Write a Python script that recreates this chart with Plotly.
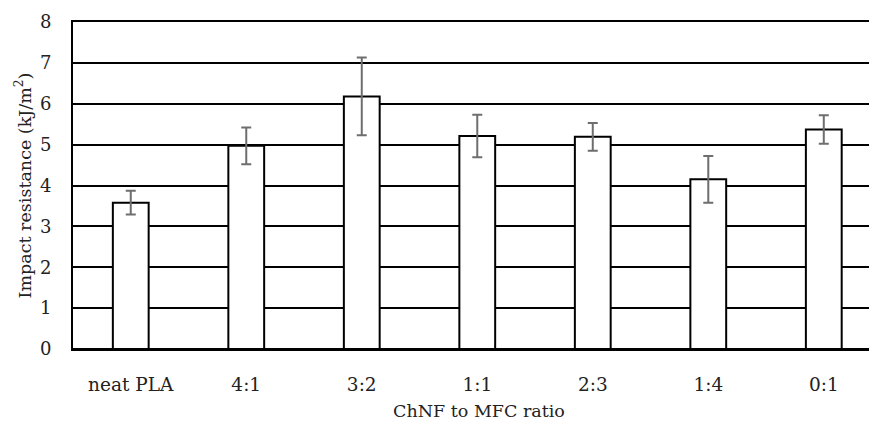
import plotly.graph_objects as go

categories = ["neat PLA", "4:1", "3:2", "1:1", "2:3", "1:4", "0:1"]
impact = [3.58, 4.97, 6.18, 5.21, 5.19, 4.15, 5.37]
err = [0.29, 0.45, 0.95, 0.52, 0.34, 0.57, 0.35]
y_ticks = [0, 1, 2, 3, 4, 5, 6, 7, 8]

FONT = "DejaVu Serif"
TXT = "#222222"

fig = go.Figure(
    go.Bar(
        x=categories,
        y=impact,
        width=0.31,
        marker=dict(color="white", line=dict(color="black", width=2)),
        error_y=dict(type="data", array=err, visible=True, color="#6e6e6e",
                     thickness=2, width=5),
    )
)

# page body has an 8px default margin, so plot margins are compensated
fig.update_layout(
    width=877,
    height=427,
    margin=dict(l=65, r=0, t=14, b=86, autoexpand=False),
    paper_bgcolor="white",
    plot_bgcolor="white",
    showlegend=False,
    font=dict(family=FONT, size=18, color=TXT),
    xaxis=dict(
        range=[-0.5, 6.53],
        showgrid=False,
        showline=True,
        mirror=True,
        linecolor="black",
        linewidth=2,
        zeroline=False,
        ticks="",
        ticklabelstandoff=18,
        tickfont=dict(family=FONT, size=18.5, color=TXT),
        title=dict(text="ChNF to MFC ratio", standoff=11,
                   font=dict(family=FONT, size=17.5, color=TXT)),
        automargin=False,
    ),
    yaxis=dict(
        range=[0, 8],
        tickvals=y_ticks,
        showgrid=True,
        gridcolor="black",
        gridwidth=2,
        zeroline=True,
        zerolinecolor="black",
        zerolinewidth=2,
        showline=True,
        linecolor="black",
        linewidth=2,
        ticks="",
        ticklabelstandoff=16,
        tickfont=dict(family=FONT, size=18, color=TXT),
        title=dict(text="Impact resistance (kJ/m<sup>2</sup>)", standoff=4,
                   font=dict(family=FONT, size=17.5, color=TXT)),
        automargin=False,
    ),
)

fig.write_html("out.html")
